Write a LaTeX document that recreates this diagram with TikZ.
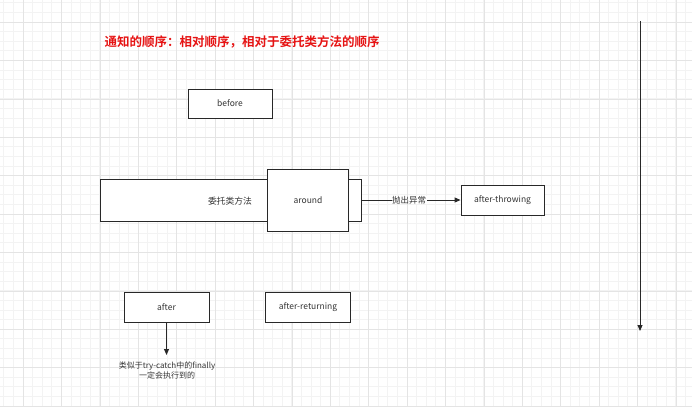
\documentclass[tikz,border=0pt]{standalone}
\usepackage{fontspec}
\setmainfont{Noto Sans CJK SC}
\newfontfamily\cjkb{Noto Sans CJK SC Bold}
\usetikzlibrary{arrows.meta}
\definecolor{gridminor}{RGB}{243,243,243}
\definecolor{gridmajor}{RGB}{228,228,228}
\definecolor{ink}{RGB}{40,40,40}
\definecolor{txt}{RGB}{51,51,51}
\definecolor{titlered}{RGB}{230,20,20}
\tikzset{
  box/.style={draw=ink, line width=0.9pt, fill=white, inner sep=0pt, text=txt, font=\fontsize{8.5}{10}\selectfont},
  conn/.style={draw=ink, line width=0.9pt, -{Triangle[length=6pt,width=5pt]}},
  lbl/.style={text=txt, inner sep=1pt, font=\fontsize{8.5}{10}\selectfont},
}
\begin{document}
\begin{tikzpicture}[x=1pt,y=-1pt]
\useasboundingbox (0,0) rectangle (692,407);
% grid
\foreach \i in {0,...,72} {
  \draw[gridminor, line width=0.4pt] ({3.6+\i*9.6},0) -- ({3.6+\i*9.6},407);
}
\foreach \i in {0,...,42} {
  \draw[gridminor, line width=0.4pt] (0,{2.6+\i*9.6}) -- (692,{2.6+\i*9.6});
}
\foreach \i in {0,...,18} {
  \draw[gridmajor, line width=0.5pt] ({23+\i*38.4},0) -- ({23+\i*38.4},407);
}
\foreach \i in {0,...,10} {
  \draw[gridmajor, line width=0.5pt] (0,{22+\i*38.4}) -- (692,{22+\i*38.4});
}
% title
\node[anchor=west, inner sep=0pt, text=titlered, font=\cjkb\fontsize{12.5}{14}\selectfont] (title) at (104.5,42) {通知的顺序：相对顺序，相对于委托类方法的顺序};
% before
\node[box, minimum width=84pt, minimum height=29pt] (before) at (230,103.5) {before};
% delegate method
\node[box, minimum width=261pt, minimum height=42pt] (method) at (230.5,200) {};
\node[lbl, font=\fontsize{8.8}{10}\selectfont] (methodtxt) at (230,201) {委托类方法};
\node[box, minimum width=81.5pt, minimum height=62pt] (around) at (308,200) {around};
% after-throwing
\node[box, minimum width=83pt, minimum height=30pt] (throwing) at (502.5,200) {after-throwing};
\draw[conn] (method.east) -- node[lbl, fill=white, inner sep=0.5pt, pos=0.48] (throwlbl) {抛出异常} (throwing.west);
% after, after-returning
\node[box, minimum width=85pt, minimum height=29.5pt] (after) at (166.5,307.5) {after};
\node[box, minimum width=85pt, minimum height=29.5pt] (returning) at (308,307.5) {after-returning};
\coordinate (afterend) at (166.5,355);
\draw[conn] (after.south) -- (afterend);
\node[lbl, anchor=north, font=\fontsize{8}{10}\selectfont, align=center] (note) at (167,361) {类似于try-catch中的finally\\一定会执行到的};
% timeline
\coordinate (tstart) at (640,21);
\coordinate (tend) at (640,331);
\draw[conn] (tstart) -- (tend);
\end{tikzpicture}
\end{document}
